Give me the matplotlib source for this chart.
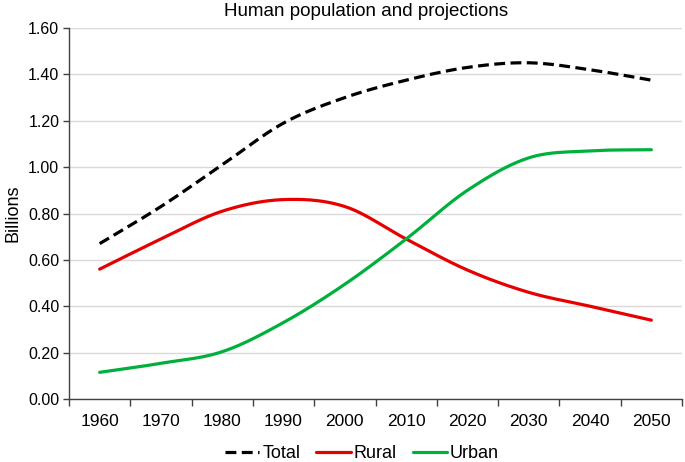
import numpy as np
import matplotlib
matplotlib.use("Agg")
import matplotlib.pyplot as plt

plt.rcParams['font.family'] = ['Liberation Sans', 'DejaVu Sans']

years = ["1960", "1970", "1980", "1990", "2000", "2010", "2020", "2030", "2040", "2050"]
total = [0.67, 0.83, 1.01, 1.19, 1.30, 1.375, 1.43, 1.45, 1.42, 1.375]
rural = [0.56, 0.69, 0.81, 0.86, 0.83, 0.69, 0.556, 0.46, 0.40, 0.34]
urban = [0.115, 0.154, 0.204, 0.33, 0.495, 0.69, 0.90, 1.04, 1.07, 1.075]
yticks = [0.0, 0.2, 0.4, 0.6, 0.8, 1.0, 1.2, 1.4, 1.6]


def smooth(xs, ys, n=30):
    # Catmull-Rom style curve through the given points (Excel-like smoothing)
    xs = np.asarray(xs, float)
    ys = np.asarray(ys, float)
    px = np.concatenate([[2 * xs[0] - xs[1]], xs, [2 * xs[-1] - xs[-2]]])
    py = np.concatenate([[2 * ys[0] - ys[1]], ys, [2 * ys[-1] - ys[-2]]])
    ox, oy = [], []
    for i in range(1, len(px) - 2):
        t = np.linspace(0, 1, n, endpoint=(i == len(px) - 3))
        for arr, out in ((px, ox), (py, oy)):
            p0, p1, p2, p3 = arr[i - 1], arr[i], arr[i + 1], arr[i + 2]
            out.extend(0.5 * ((2 * p1) + (-p0 + p2) * t
                              + (2 * p0 - 5 * p1 + 4 * p2 - p3) * t ** 2
                              + (-p0 + 3 * p1 - 3 * p2 + p3) * t ** 3))
    return np.array(ox), np.array(oy)


fig = plt.figure(figsize=(6.85, 4.62), dpi=100)
ax = fig.add_axes([69 / 685, 1 - 399 / 462, 613 / 685, 371 / 462])

x = np.arange(len(years))
sx, sy = smooth(x, total)
ln_t, = ax.plot(sx, sy, color='black', lw=2.3, label='Total', solid_capstyle='round')
ln_t.set_dashes([3.4, 1.7])
sx, sy = smooth(x, rural)
ax.plot(sx, sy, color='#e60000', lw=2.3, label='Rural', solid_capstyle='round')
sx, sy = smooth(x, urban)
ax.plot(sx, sy, color='#00b03c', lw=2.3, label='Urban', solid_capstyle='round')

ax.set_xlim(-0.5, len(years) - 0.5)
ax.set_ylim(0, 1.6)
ax.set_yticks(yticks)
ax.set_yticklabels([f"{v:.2f}" for v in yticks], fontsize=11.5)
ax.yaxis.grid(True, color='#d9d9d9', lw=1)
ax.set_axisbelow(True)

ax.set_xticks(np.arange(-0.5, len(years)), minor=False)
ax.set_xticklabels([])
ax.set_xticks(x, minor=True)
ax.set_xticklabels(years, minor=True, fontsize=12.5)
ax.tick_params(axis='x', which='major', length=5, width=1, color='#404040', direction='out')
ax.tick_params(axis='x', which='minor', length=0, pad=11)
ax.tick_params(axis='y', length=4, width=1, color='#404040', direction='out', pad=3)

for s in ('top', 'right'):
    ax.spines[s].set_visible(False)
for s in ('left', 'bottom'):
    ax.spines[s].set_color('#404040')
    ax.spines[s].set_linewidth(1)

ax.set_ylabel('Billions', fontsize=13, labelpad=5)
fig.text(366 / 685, 1 - 12 / 462, 'Human population and projections', fontsize=13.5,
         ha='center', va='center')

fig.legend(loc='center', bbox_to_anchor=(362 / 685, 1 - 454 / 462), ncol=3, frameon=False,
           fontsize=13, handlelength=1.9, handletextpad=0.15, columnspacing=0.9)

fig.savefig('out.png', dpi=100)
